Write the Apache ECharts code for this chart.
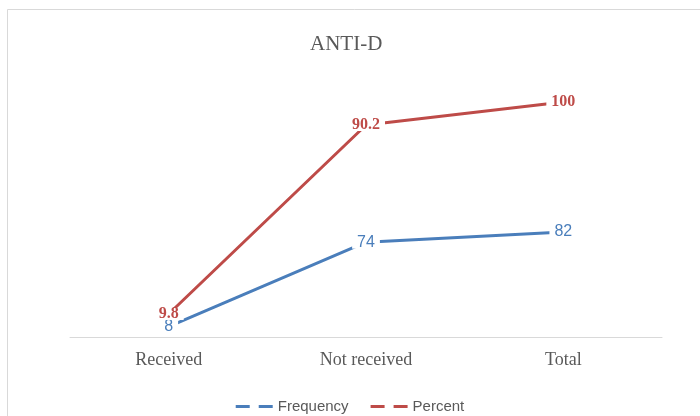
<!DOCTYPE html>
<html><head><meta charset="utf-8">
<script src="https://cdn.jsdelivr.net/npm/echarts@6/dist/echarts.min.js"></script>
<style>html,body{margin:0;padding:0;background:#fff}#c{width:700px;height:416px}</style>
</head><body><div id="c"></div>
<script>
const categories = ['Received', 'Not received', 'Total'];
const frequency = [8, 74, 82];
const percent = [9.8, 90.2, 100];
const seriesNames = ['Frequency', 'Percent'];
const titleText = 'ANTI-D';

const chart = echarts.init(document.getElementById('c'));
const dashIcon = 'path://M0,0h14v3h-14z M23,0h14v3h-14z';
chart.setOption({
  animation: false,
  backgroundColor: '#fff',
  title: {
    text: titleText, left: 305, top: 29,
    textStyle: {fontFamily: 'Liberation Serif', fontSize: 21, fontWeight: 'normal', color: '#595959'}
  },
  legend: {
    top: 394, left: 'center', itemWidth: 37, itemHeight: 3, itemGap: 22,
    textStyle: {fontFamily: 'Liberation Sans', fontSize: 15, color: '#595959'},
    data: [{name: seriesNames[0], icon: dashIcon}, {name: seriesNames[1], icon: dashIcon}]
  },
  graphic: [{type: 'rect', shape: {x: 7.5, y: 9.5, width: 800, height: 500}, style: {fill: 'none', stroke: '#d9d9d9', lineWidth: 1}, z: -10}],
  grid: {left: 70, right: 38, top: 55, bottom: 79},
  xAxis: {
    type: 'category', data: categories, boundaryGap: true,
    axisLine: {lineStyle: {color: '#d9d9d9', width: 1}},
    axisTick: {show: false},
    axisLabel: {fontFamily: 'Liberation Serif', fontSize: 18, color: '#595959', margin: 14}
  },
  yAxis: [
    {type: 'value', min: 0, max: 220, show: false, splitLine: {show: false}},
    {type: 'value', min: 0, max: 120, show: false, splitLine: {show: false}}
  ],
  series: [
    {
      name: seriesNames[0], type: 'line', data: frequency, yAxisIndex: 0,
      symbol: 'circle', symbolSize: 1, showSymbol: true,
      lineStyle: {color: '#4a7ebb', width: 3}, itemStyle: {color: '#4a7ebb'},
      label: {show: true, position: 'inside', fontFamily: 'Liberation Sans', fontSize: 16, lineHeight: 13, color: '#4a7ebb',
        backgroundColor: '#fff', padding: [0, 5]},
      labelLayout: {hideOverlap: false},
      z: 2
    },
    {
      name: seriesNames[1], type: 'line', data: percent, yAxisIndex: 1,
      symbol: 'circle', symbolSize: 1, showSymbol: true,
      lineStyle: {color: '#be4b48', width: 3}, itemStyle: {color: '#be4b48'},
      label: {show: true, position: 'inside', fontFamily: 'Liberation Serif', fontSize: 16, lineHeight: 12, fontWeight: 'bold', color: '#be4b48',
        backgroundColor: '#fff', padding: [0, 5]},
      labelLayout: {hideOverlap: false},
      z: 3
    }
  ]
});
</script></body></html>
